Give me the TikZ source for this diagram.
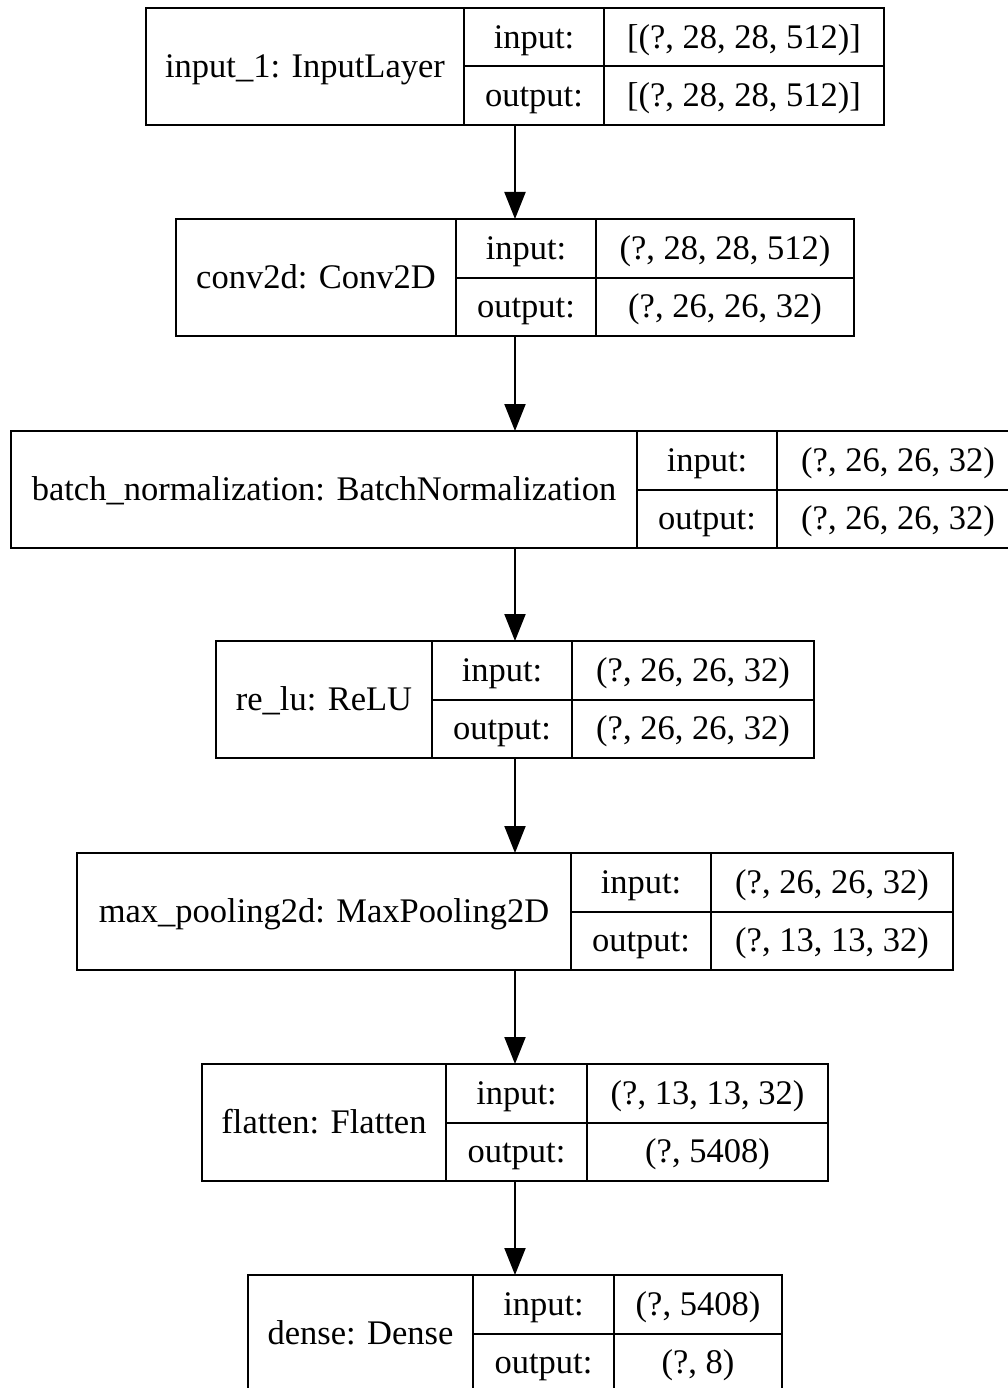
\documentclass[tikz,border=0pt]{standalone}
\usepackage{fontspec}
\setmainfont{Liberation Serif}
\usetikzlibrary{arrows.meta}
\tikzset{
  cell/.style={draw=black, line width=2pt, inner sep=0pt, outer sep=0pt, anchor=north west,
    text height=22pt, text depth=0pt, font=\fontsize{34.5}{40}\selectfont},
  lay/.style={inner sep=0pt, outer sep=0pt, anchor=north west, minimum height=117pt},
  arr/.style={-{Triangle[length=27pt,width=21pt]}, line width=2pt}
}
\newcommand\kerasLayer[9]{%
  \pgfmathsetmacro\wall{#5-#2}%
  \pgfmathsetmacro\wa{#3-#2}%
  \pgfmathsetmacro\wb{#4-#3}%
  \pgfmathsetmacro\wc{#5-#4}%
  \node[lay, minimum width=\wall pt] (#1) at (#2,#6) {};
  \node[cell, minimum width=\wa pt, minimum height=117pt] (#1n) at (#2,#6) {#7};
  \node[cell, minimum width=\wb pt, minimum height=58.5pt] (#1il) at (#3,#6) {input:};
  \node[cell, minimum width=\wb pt, minimum height=58.5pt] (#1ol) at ({#3},{#6+58.5}) {output:};
  \node[cell, minimum width=\wc pt, minimum height=58.5pt] (#1iv) at (#4,#6) {#8};
  \node[cell, minimum width=\wc pt, minimum height=58.5pt] (#1ov) at ({#4},{#6+58.5}) {#9};
}
\begin{document}
\begin{tikzpicture}[x=1pt,y=-1pt]
\useasboundingbox (0,0) rectangle (1008,1388);
\clip (0,0) rectangle (1008,1388);
\kerasLayer{La}{146}{464}{604}{884}{8}{input\_1: InputLayer}{[(?, 28, 28, 512)]}{[(?, 28, 28, 512)]}
\kerasLayer{Lb}{176}{456}{596}{854}{219}{conv2d: Conv2D}{(?, 28, 28, 512)}{(?, 26, 26, 32)}
\kerasLayer{Lc}{11}{637}{777}{1019}{431}{batch\_normalization: BatchNormalization}{(?, 26, 26, 32)}{(?, 26, 26, 32)}
\kerasLayer{Ld}{216}{432}{572}{814}{641}{re\_lu: ReLU}{(?, 26, 26, 32)}{(?, 26, 26, 32)}
\kerasLayer{Le}{77}{571}{711}{953}{853}{max\_pooling2d: MaxPooling2D}{(?, 26, 26, 32)}{(?, 13, 13, 32)}
\kerasLayer{Lf}{202}{446}{587}{828}{1064}{flatten: Flatten}{(?, 13, 13, 32)}{(?, 5408)}
\kerasLayer{Lg}{248}{473}{614}{782}{1275}{dense: Dense}{(?, 5408)}{(?, 8)}
\draw[arr] (La.south) -- (Lb.north);
\draw[arr] (Lb.south) -- (Lc.north);
\draw[arr] (Lc.south) -- (Ld.north);
\draw[arr] (Ld.south) -- (Le.north);
\draw[arr] (Le.south) -- (Lf.north);
\draw[arr] (Lf.south) -- (Lg.north);
\end{tikzpicture}
\end{document}
